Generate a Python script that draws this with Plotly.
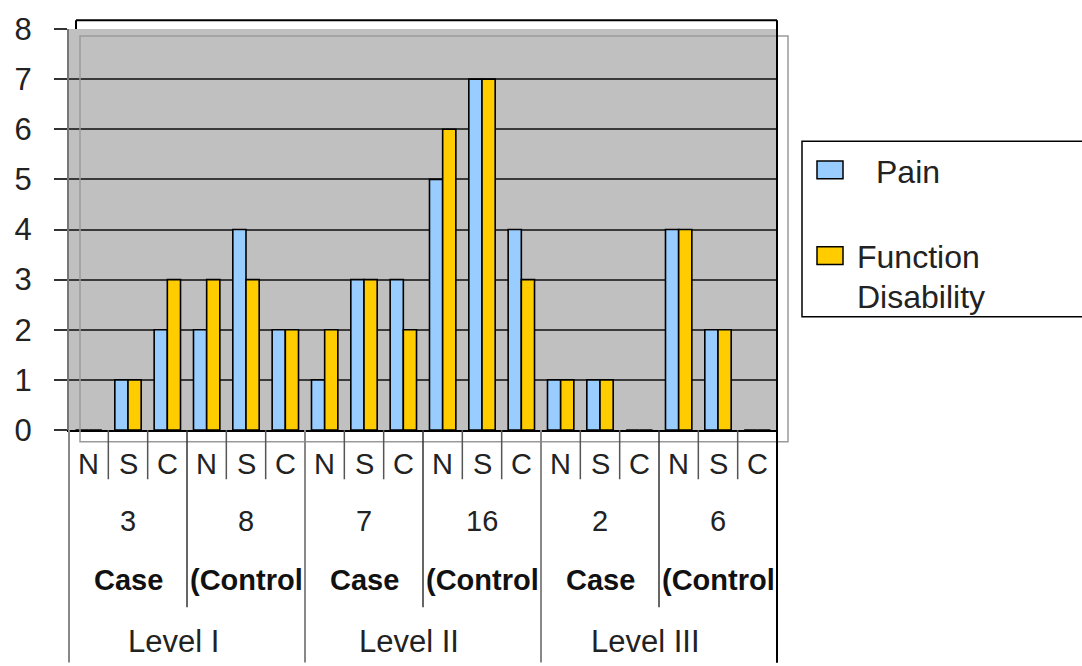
import plotly.graph_objects as go

# ---- data ----
sub_labels = ["N", "S", "C"] * 6
group_sizes = ["3", "8", "7", "16", "2", "6"]
group_names = ["Case", "(Control", "Case", "(Control", "Case", "(Control"]
level_names = ["Level I", "Level II", "Level III"]
pain = [0, 1, 2, 2, 4, 2, 1, 3, 3, 5, 7, 4, 1, 1, 0, 4, 2, 0]
function_disability = [0, 1, 3, 3, 3, 2, 2, 3, 2, 6, 7, 3, 1, 1, 0, 4, 2, 0]

W, H = 1082, 666
L, R, T, B = 69, 777, 23, 430          # plot area in pixels
n = len(sub_labels)
FONT = "Liberation Sans, Arial, sans-serif"
INK = "#111111"


def px(x):
    return (x - L) / (R - L)


def py(y):
    return (B - y) / (B - T)


x_idx = list(range(n))

fig = go.Figure()
fig.add_trace(go.Bar(x=x_idx, y=pain, name="Pain",
                     marker=dict(color="#99CCFF", line=dict(color="#000000", width=1.6))))
fig.add_trace(go.Bar(x=x_idx, y=function_disability, name="Function Disability",
                     marker=dict(color="#FFCC00", line=dict(color="#000000", width=1.6))))

shapes = []
annotations = []

# outer frame pieces around the plot
shapes.append(dict(type="line", xref="paper", yref="paper",
                   x0=px(76), x1=px(R), y0=py(14), y1=py(14),
                   line=dict(color="#000000", width=2)))
shapes.append(dict(type="line", xref="paper", yref="paper",
                   x0=px(76), x1=px(76), y0=py(14), y1=py(23),
                   line=dict(color="#000000", width=2)))
# offset grey rectangle
shapes.append(dict(type="rect", xref="paper", yref="paper",
                   x0=px(80), x1=px(788), y0=py(30), y1=py(442),
                   line=dict(color="#9a9a9a", width=1.5), layer="above"))

# category separators below the axis
for k in range(n + 1):
    xp = k / n
    if k % 6 == 0:
        y_end, color, width = 666, ("#000000" if k == n else "#888888"), 2
    elif k % 3 == 0:
        y_end, color, width = 610, "#333333", 1.5
    else:
        y_end, color, width = 480, "#555555", 1.5
    shapes.append(dict(type="line", xref="paper", yref="paper",
                       x0=xp, x1=xp, y0=0, y1=py(y_end),
                       line=dict(color=color, width=width)))
# right frame edge from top down
shapes.append(dict(type="line", xref="paper", yref="paper",
                   x0=1, x1=1, y0=py(14), y1=py(666),
                   line=dict(color="#000000", width=2)))

# sub-category labels
for i, s in enumerate(sub_labels):
    annotations.append(dict(x=i, y=py(465), xref="x", yref="paper", text=s,
                            showarrow=False, font=dict(family=FONT, size=29, color="#222222"),
                            xanchor="center", yanchor="middle"))
# group size and group name rows
for g in range(6):
    cx = g * 3 + 1
    annotations.append(dict(x=cx, y=py(522), xref="x", yref="paper", text=group_sizes[g],
                            showarrow=False, font=dict(family=FONT, size=29, color="#222222"),
                            xanchor="center", yanchor="middle"))
    annotations.append(dict(x=cx, y=py(582), xref="x", yref="paper",
                            text="<b>" + group_names[g] + "</b>",
                            showarrow=False, font=dict(family=FONT, size=29, color=INK),
                            xanchor="center", yanchor="middle"))
# level row
for lv in range(3):
    cx = lv * 6 + 2.5
    annotations.append(dict(x=cx, y=py(645), xref="x", yref="paper", text=level_names[lv],
                            showarrow=False, font=dict(family=FONT, size=31, color="#222222"),
                            xanchor="center", yanchor="middle", xshift=-14))

# legend box
shapes.append(dict(type="rect", xref="paper", yref="paper",
                   x0=px(802), x1=px(1090), y0=py(137), y1=py(315),
                   line=dict(color="#000000", width=1.5), fillcolor="#ffffff"))
shapes.append(dict(type="rect", xref="paper", yref="paper",
                   x0=px(817), x1=px(843), y0=py(157), y1=py(175),
                   line=dict(color="#000000", width=1.5), fillcolor="#99CCFF"))
shapes.append(dict(type="rect", xref="paper", yref="paper",
                   x0=px(817), x1=px(843), y0=py(244), y1=py(262),
                   line=dict(color="#000000", width=1.5), fillcolor="#FFCC00"))
annotations.append(dict(x=px(874), y=py(168), xref="paper", yref="paper", text="Pain",
                        showarrow=False, font=dict(family=FONT, size=32, color="#222222"),
                        xanchor="left", yanchor="middle"))
annotations.append(dict(x=px(855), y=py(254), xref="paper", yref="paper", text="Function",
                        showarrow=False, font=dict(family=FONT, size=32, color="#222222"),
                        xanchor="left", yanchor="middle"))
annotations.append(dict(x=px(855), y=py(295), xref="paper", yref="paper", text="Disability",
                        showarrow=False, font=dict(family=FONT, size=32, color="#222222"),
                        xanchor="left", yanchor="middle"))

fig.update_layout(
    width=W, height=H,
    margin=dict(l=L, r=W - R, t=T, b=H - B, pad=0),
    paper_bgcolor="#ffffff",
    plot_bgcolor="#C0C0C0",
    barmode="group",
    bargap=0.33,
    bargroupgap=0,
    showlegend=False,
    shapes=shapes,
    annotations=annotations,
    xaxis=dict(range=[-0.5, n - 0.5], showticklabels=False, ticks="",
               showgrid=False, zeroline=False, showline=True,
               linecolor="#000000", linewidth=2, fixedrange=True),
    yaxis=dict(range=[0, 8], dtick=1, showgrid=True, gridcolor="#3a3a3a", gridwidth=2,
               zeroline=False, showline=True, linecolor="#777777", linewidth=2,
               ticks="outside", ticklen=13, tickcolor="#333333", tickwidth=1.5,
               tickfont=dict(family=FONT, size=31, color="#222222"),
               ticklabelstandoff=16, fixedrange=True),
)

fig.write_html("out.html")
